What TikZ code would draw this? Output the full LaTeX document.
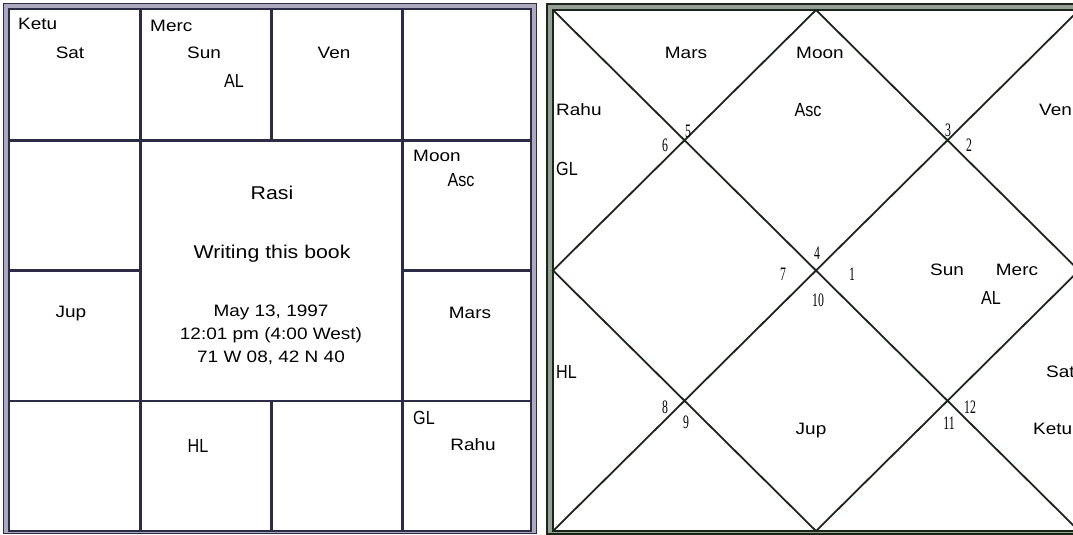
\documentclass[tikz,border=0pt]{standalone}
\usepackage{fontspec}
\usepackage{xcolor}
\newfontfamily\chartsans{Liberation Sans}[FakeStretch=1.15]
\newfontfamily\chartsmall{Liberation Sans}[FakeStretch=0.85]
\newfontfamily\chartnum{Liberation Serif}[FakeStretch=0.62]
\definecolor{rasinavy}{RGB}{44,44,70}
\definecolor{rasigrey}{RGB}{170,170,188}
\definecolor{navgreen}{RGB}{26,38,26}
\definecolor{navgrey}{RGB}{150,160,150}

\begin{document}
\begin{tikzpicture}[x=1pt, y=-1pt,
    lbl/.style={inner sep=0pt, text height=11.8pt, text depth=0pt,
                font=\chartsans\fontsize{16.5}{16.5}\selectfont},
    sml/.style={inner sep=0pt, text height=13.6pt, text depth=0pt,
                font=\chartsmall\fontsize{19}{19}\selectfont},
    ttl/.style={inner sep=0pt, text height=13.2pt, text depth=0pt,
                font=\chartsans\fontsize{18.5}{18.5}\selectfont},
    num/.style={inner sep=0pt, text height=12.8pt, text depth=0pt,
                font=\chartnum\fontsize{19}{19}\selectfont},
    grid/.style={rasinavy, line width=2.5pt},
    diag/.style={navgreen, line width=1.8pt}
]
    \useasboundingbox (0,0) rectangle (1073,535);
    \fill[white] (0,0) rectangle (1073,535);
    \clip (0,0) rectangle (1073,535);

    % Rasi (south indian square)
    \draw[rasinavy, line width=1.5pt, fill=rasigrey] (3.5,3.5) rectangle (536.5,533.5);
    \draw[rasinavy, line width=2pt, fill=white] (9,9.5) rectangle (531,530.5);
    \draw[grid] (140.5,9.5) -- (140.5,530.5);
    \draw[grid] (402.5,9.5) -- (402.5,530.5);
    \draw[grid] (271.5,9.5) -- (271.5,140.5);
    \draw[grid] (271.5,401) -- (271.5,530.5);
    \draw[grid] (9,140.5) -- (531,140.5);
    \draw[grid] (9,401) -- (531,401);
    \draw[grid] (9,270.5) -- (140.5,270.5);
    \draw[grid] (402.5,270.5) -- (531,270.5);

    \node[lbl, anchor=west] (rketu) at (18,24) {Ketu};
    \node[lbl] (rsat)  at (70,53)  {Sat};
    \node[lbl, anchor=west] (rmerc) at (150,26) {Merc};
    \node[lbl] (rsun)  at (204,53) {Sun};
    \node[sml] (ral)   at (234,81) {AL};
    \node[lbl] (rven)  at (334,53) {Ven};
    \node[lbl, anchor=west] (rmoon) at (413,156) {Moon};
    \node[sml] (rasc)  at (461,180) {Asc};
    \node[ttl] (title) at (272,193) {Rasi};
    \node[ttl] (event) at (272,252) {Writing this book};
    \node[lbl] (date)  at (271,311) {May 13, 1997};
    \node[lbl] (time)  at (271,334) {12:01 pm (4:00 West)};
    \node[lbl] (place) at (271,357) {71 W 08, 42 N 40};
    \node[lbl] (rjup)  at (71,312)  {Jup};
    \node[lbl] (rmars) at (470,313) {Mars};
    \node[sml] (rhl)   at (198,446) {HL};
    \node[sml, anchor=west] (rgl) at (413,418) {GL};
    \node[lbl] (rrahu) at (473,445) {Rahu};

    % north indian diamond
    \draw[navgreen, line width=1.5pt, fill=navgrey] (547,4) rectangle (1086,534);
    \draw[navgreen, line width=2pt, fill=white] (553,10) rectangle (1079,531);
    \coordinate (tl) at (553,10);
    \coordinate (tr) at (1079,10);
    \coordinate (bl) at (553,531);
    \coordinate (br) at (1079,531);
    \coordinate (top) at (816,10);
    \coordinate (rgt) at (1079,270.5);
    \coordinate (bot) at (816,531);
    \coordinate (lft) at (553,270.5);
    \draw[diag] (tl) -- (br);
    \draw[diag] (tr) -- (bl);
    \draw[diag] (top) -- (rgt) -- (bot) -- (lft) -- cycle;

    \node[lbl] (nmars) at (686,53) {Mars};
    \node[lbl, anchor=west] (nmoon) at (796,53) {Moon};
    \node[lbl, anchor=west] (nrahu) at (556,110) {Rahu};
    \node[sml] (nasc) at (808,110) {Asc};
    \node[lbl, anchor=west] (nven) at (1039,110) {Ven};
    \node[sml, anchor=west] (ngl) at (556,169) {GL};
    \node[lbl] (nsun) at (947,270) {Sun};
    \node[lbl] (nmerc) at (1017,270) {Merc};
    \node[sml] (nal) at (991,298) {AL};
    \node[sml, anchor=west] (nhl) at (556,372) {HL};
    \node[lbl] (njup) at (811,429) {Jup};
    \node[lbl, anchor=west] (nsat) at (1046,372) {Sat};
    \node[lbl, anchor=west] (nketu) at (1033,429) {Ketu};

    \foreach \h/\x/\y in {1/852/274, 2/969/145, 3/948/130, 4/817/253,
                          5/688/131, 6/665/145, 7/783/274, 8/665/407,
                          9/686/422, 10/818/300, 11/949/423, 12/970/407}
        \node[num] (h\h) at (\x,\y) {\h};
\end{tikzpicture}
\end{document}
